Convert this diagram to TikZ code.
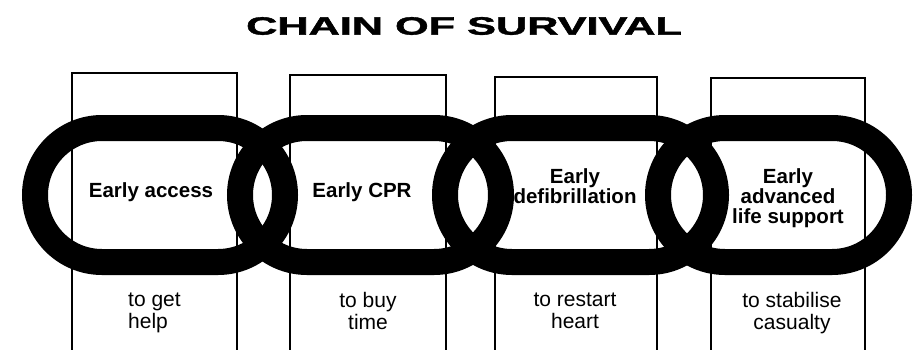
\documentclass[tikz,border=0pt]{standalone}
\usepackage{graphicx}
\usepackage{fontspec}
\setmainfont{Liberation Sans}
\newfontfamily\titlefont[FakeBold=1.5]{Liberation Sans Bold}
\begin{document}
\begin{tikzpicture}[x=1pt,y=-1pt,
    stage/.style={line width=1.6pt},
    link/.style={line width=26pt,rounded corners=67pt},
    what/.style={inner sep=0pt,align=center,font=\fontsize{20.5}{20}\selectfont\bfseries},
    why/.style={inner sep=0pt,align=center,font=\fontsize{21}{22}\selectfont}]
  \useasboundingbox (0,0) rectangle (915,349);
  \node (title) at (464,26) {\scalebox{1.73}[1]{\titlefont\fontsize{25}{25}\selectfont CHAIN OF SURVIVAL}};
  % the four stages, open at the foot
  \draw[stage] (72,350) |- (237,73) -- (237,350);
  \draw[stage] (290,350) |- (446,75) -- (446,350);
  \draw[stage] (495,350) |- (657,77) -- (657,350);
  \draw[stage] (711,350) |- (865,78) -- (865,350);
  % the chain
  \begin{scope}[link]
    \draw (35,128) rectangle (285,262);
    \draw (240,128) rectangle (501,262);
    \draw (445,128) rectangle (716,262);
    \draw (658,128) rectangle (899,262);
  \end{scope}
  \node[what] (access) at (151,192) {Early access};
  \node[what] (cpr) at (362,192) {Early CPR};
  \node[what] (defib) at (575,186) {Early\\defibrillation};
  \node[what] (als) at (788,198) {Early\\advanced\\life support};
  \node[why,align=left,anchor=west] (help) at (128,313) {to get\\help};
  \node[why] (buy) at (368,311) {to buy\\time};
  \node[why] (restart) at (575,311) {to restart\\heart};
  \node[why] (stabilise) at (792,313) {to stabilise\\casualty};
\end{tikzpicture}
\end{document}
